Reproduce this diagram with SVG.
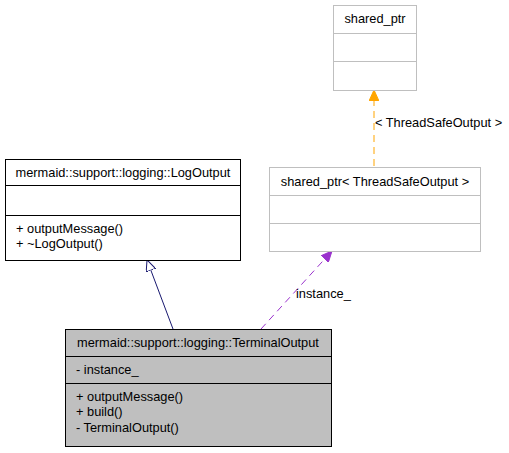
<svg xmlns="http://www.w3.org/2000/svg" width="509" height="453" viewBox="0 0 509 453">
<defs>
<style>
text{font-family:"Liberation Sans",Arial,sans-serif;font-size:12.8px;fill:#000}
.c{text-anchor:middle}
.dark{fill:#fff;stroke:#000;stroke-width:1}
.light{fill:#fff;stroke:#bfbfbf;stroke-width:1}
.gray{fill:#bfbfbf;stroke:#000;stroke-width:1}
</style>
<marker id="tri" viewBox="0 0 12 10" refX="11" refY="5" markerWidth="12" markerHeight="10" markerUnits="userSpaceOnUse" orient="auto"><path d="M0,0 L11,5 L0,10 Z" fill="#fff" stroke="#191970"/></marker>
<marker id="purp" viewBox="0 0 12 10" refX="11" refY="5" markerWidth="12" markerHeight="10" markerUnits="userSpaceOnUse" orient="auto"><path d="M0,0 L11,5 L0,10 Z" fill="#9a32cd" stroke="#9a32cd"/></marker>
<marker id="orng" viewBox="0 0 12 10" refX="11" refY="5" markerWidth="12" markerHeight="10" markerUnits="userSpaceOnUse" orient="auto"><path d="M0,0 L11,5 L0,10 Z" fill="#ffa500" stroke="#ffa500"/></marker>
</defs>
<g id="connectors">
<line x1="173" y1="329" x2="147" y2="260" stroke="#191970" marker-end="url(#tri)"/>
<line x1="261" y1="329" x2="332" y2="251" stroke="#9a32cd" stroke-dasharray="7,5" marker-end="url(#purp)"/>
<text x="296" y="298">instance_</text>
<line x1="374" y1="166" x2="374" y2="90" stroke="#ffa500" stroke-dasharray="7,5" marker-end="url(#orng)"/>
<text x="375" y="127">&lt; ThreadSafeOutput &gt;</text>
</g>
<g id="shared_ptr">
<rect class="light" x="333.5" y="5.5" width="83" height="85"/>
<line x1="333.5" y1="33.5" x2="416.5" y2="33.5" stroke="#bfbfbf"/>
<line x1="333.5" y1="61.5" x2="416.5" y2="61.5" stroke="#bfbfbf"/>
<text class="c" x="375" y="23">shared_ptr</text>
</g>
<g id="LogOutput">
<rect class="dark" x="5.5" y="159.5" width="235" height="101"/>
<line x1="5.5" y1="185.5" x2="240.5" y2="185.5" stroke="#000"/>
<line x1="5.5" y1="215.5" x2="240.5" y2="215.5" stroke="#000"/>
<text class="c" x="123" y="177">mermaid::support::logging::LogOutput</text>
<text x="16" y="233">+ outputMessage()</text>
<text x="16" y="248">+ ~LogOutput()</text>
</g>
<g id="shared_ptr_TSO">
<rect class="light" x="269.5" y="167.5" width="211" height="84"/>
<line x1="269.5" y1="195.5" x2="480.5" y2="195.5" stroke="#bfbfbf"/>
<line x1="269.5" y1="223.5" x2="480.5" y2="223.5" stroke="#bfbfbf"/>
<text class="c" x="375" y="186">shared_ptr&lt; ThreadSafeOutput &gt;</text>
</g>
<g id="TerminalOutput">
<rect class="gray" x="65.5" y="329.5" width="266" height="117"/>
<line x1="65.5" y1="356.5" x2="331.5" y2="356.5" stroke="#000"/>
<line x1="65.5" y1="383.5" x2="331.5" y2="383.5" stroke="#000"/>
<text class="c" x="198" y="347">mermaid::support::logging::TerminalOutput</text>
<text x="76" y="374">- instance_</text>
<text x="76" y="401">+ outputMessage()</text>
<text x="76" y="416">+ build()</text>
<text x="76" y="432">- TerminalOutput()</text>
</g>
</svg>
